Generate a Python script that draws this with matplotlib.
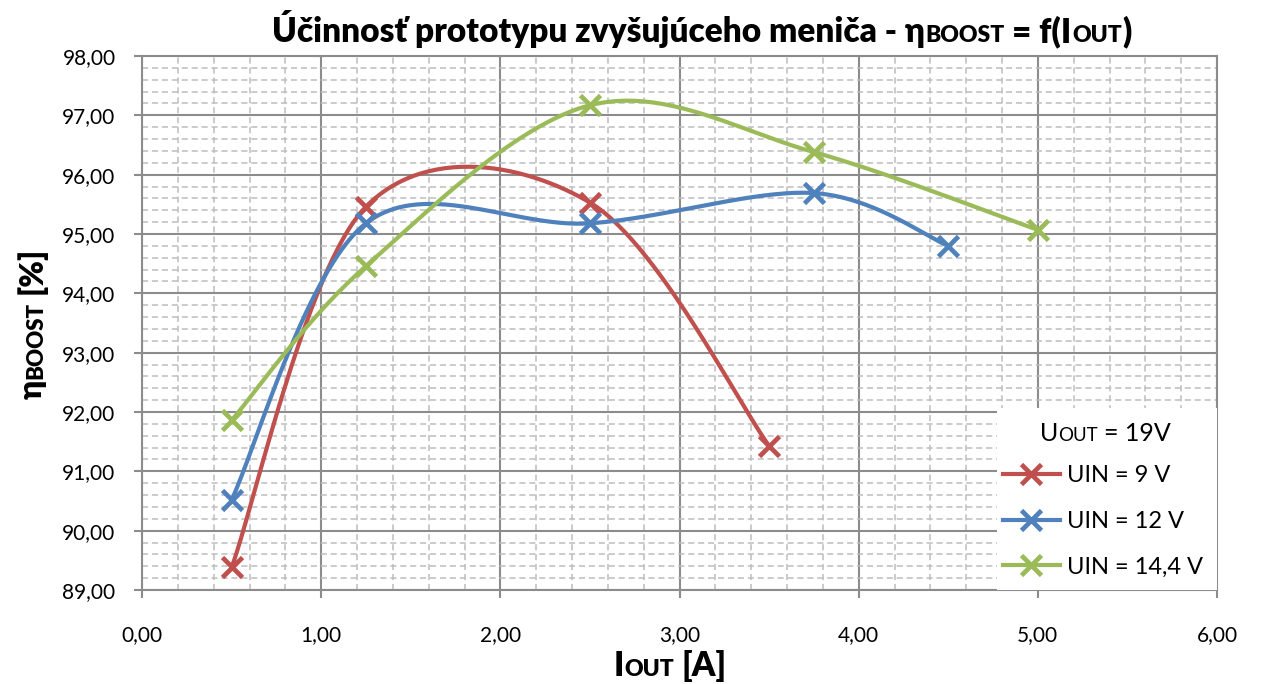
import numpy as np
import matplotlib
matplotlib.use("Agg")
import matplotlib.pyplot as plt
from matplotlib.lines import Line2D
from matplotlib.patches import Rectangle
from matplotlib.ticker import MultipleLocator, FuncFormatter

# ---- data ----
x_9v = [0.5, 1.25, 2.5, 3.5]
y_9v = [89.38, 95.46, 95.53, 91.43]
x_12v = [0.5, 1.25, 2.5, 3.75, 4.5]
y_12v = [90.52, 95.18, 95.18, 95.69, 94.80]
x_14v = [0.5, 1.25, 2.5, 3.75, 5.0]
y_14v = [91.86, 94.46, 97.17, 96.38, 95.07]
series_labels = ["UIN = 9 V", "UIN = 12 V", "UIN = 14,4 V"]
colors = ["#C0504D", "#4F81BD", "#9BBB59"]

W, H = 1272, 684
FAM = ["Lato", "DejaVu Sans"]
plt.rcParams["font.family"] = FAM


def smooth(xs, ys, n=60):
    """Excel-like smoothed line (Catmull-Rom Bezier, tension 1/6)."""
    P = np.column_stack([xs, ys]).astype(float)
    out = [P[0]]
    t = np.linspace(0, 1, n)[1:, None]
    for i in range(len(P) - 1):
        p0 = P[i - 1] if i > 0 else P[i]
        p1, p2 = P[i], P[i + 1]
        p3 = P[i + 2] if i + 2 < len(P) else P[i + 1]
        c1 = p1 + (p2 - p0) / 6.0
        c2 = p2 - (p3 - p1) / 6.0
        seg = ((1 - t) ** 3) * p1 + 3 * t * (1 - t) ** 2 * c1 + 3 * t ** 2 * (1 - t) * c2 + t ** 3 * p2
        out.extend(seg)
    out = np.array(out)
    return out[:, 0], out[:, 1]


fig = plt.figure(figsize=(W / 100, H / 100), dpi=100)
ax = fig.add_axes([142 / W, 1 - 590 / H, (1217 - 142) / W, (590 - 56) / H])

LW = 3.0
MS, MEW = 14.5, 3.4
for xs, ys, c in [(x_9v, y_9v, colors[0]), (x_12v, y_12v, colors[1]), (x_14v, y_14v, colors[2])]:
    sx, sy = smooth(xs, ys)
    ax.plot(sx, sy, color=c, lw=LW, solid_capstyle="round", zorder=4)
    ax.plot(xs, ys, ls="none", marker="x", ms=MS, mew=MEW, color=c, zorder=5)

ax.set_xlim(0, 6)
ax.set_ylim(89, 98)
ax.xaxis.set_major_locator(MultipleLocator(1))
ax.xaxis.set_minor_locator(MultipleLocator(0.2))
ax.yaxis.set_major_locator(MultipleLocator(1))
ax.yaxis.set_minor_locator(MultipleLocator(0.2))
fmt = FuncFormatter(lambda v, p: f"{v:.2f}".replace(".", ","))
ax.xaxis.set_major_formatter(fmt)
ax.yaxis.set_major_formatter(fmt)
ax.grid(which="major", color="#8c8c8c", lw=1.5, zorder=1)
ax.grid(which="minor", color="#bdbdbd", lw=1.1, ls=(0, (4, 2.5)), zorder=0)
ax.set_axisbelow(True)
for s in ax.spines.values():
    s.set_color("#8c8c8c")
    s.set_linewidth(1.5)
ax.tick_params(which="major", direction="out", length=6, width=1.5, color="#8c8c8c",
               labelsize=15, pad=13)
ax.tick_params(axis="x", pad=19)
ax.tick_params(which="minor", length=0)

# legend box
box_x0 = (997 - 142) / (1217 - 142) * 6
box_y1 = 98 - (408 - 56) / (590 - 56) * 9
ax.add_patch(Rectangle((box_x0, 89), 6 - box_x0, box_y1 - 89, facecolor="white",
                       edgecolor="none", zorder=6, clip_on=False))
handles = [Line2D([], [], color=c, lw=LW, marker="x", ms=MS, mew=MEW) for c in colors]
leg = ax.legend(handles, series_labels, loc="upper left",
                bbox_to_anchor=((1003 - 142) / (1217 - 142), 1 - (465 - 56) / (590 - 56)),
                frameon=False, fontsize=17, handlelength=2.4, handletextpad=0.3,
                labelspacing=1.05, borderaxespad=0, borderpad=0)
leg.set_zorder(7)

fig.canvas.draw()
R = fig.canvas.get_renderer()


def chain(pieces, anchor, rotation=0, align="center", weight="bold"):
    """pieces: (text, size_pt, gap_em_before). anchor: pixel (x,y) of baseline."""
    texts, widths, gaps = [], [], []
    for s, size, gap in pieces:
        t = fig.text(0, 0, s, fontsize=size, fontweight=weight, family=FAM,
                     rotation=rotation, rotation_mode="anchor", ha="left", va="baseline")
        bb = t.get_window_extent(R)
        widths.append(bb.width if rotation == 0 else bb.height)
        gaps.append(gap * size * 100 / 72)
        texts.append(t)
    total = sum(widths) + sum(gaps)
    pos = -total / 2 if align == "center" else 0
    for t, w, g in zip(texts, widths, gaps):
        pos += g
        if rotation == 0:
            t.set_position(((anchor[0] + pos) / W, anchor[1] / H))
        else:
            t.set_position((anchor[0] / W, (anchor[1] + pos) / H))
        pos += w
    return texts


BIG, SM = 24, 16.5
chain([("Účinnosť prototypu zvyšujúceho meniča - η", BIG, 0), ("BOOST", SM, 0.02),
       ("= f(I", BIG, 0.23), ("OUT", SM, 0.02), (")", BIG, 0.02)],
      (702, H - 42), weight="heavy")

chain([("I", 24, 0), ("OUT", 16.5, 0.03), ("[A]", 24, 0.23)], (670, H - 676), weight="heavy")

chain([("η", 23, 0), ("BOOST", 16, 0.03), ("[%]", 23, 0.23)], (42, H - 323), rotation=90,
      weight="heavy")

chain([("U", 18, 0), ("OUT", 13.5, 0.02), ("= 19V", 18, 0.23)], (1105, H - 441), weight="normal")

fig.savefig("out.png", dpi=100)
